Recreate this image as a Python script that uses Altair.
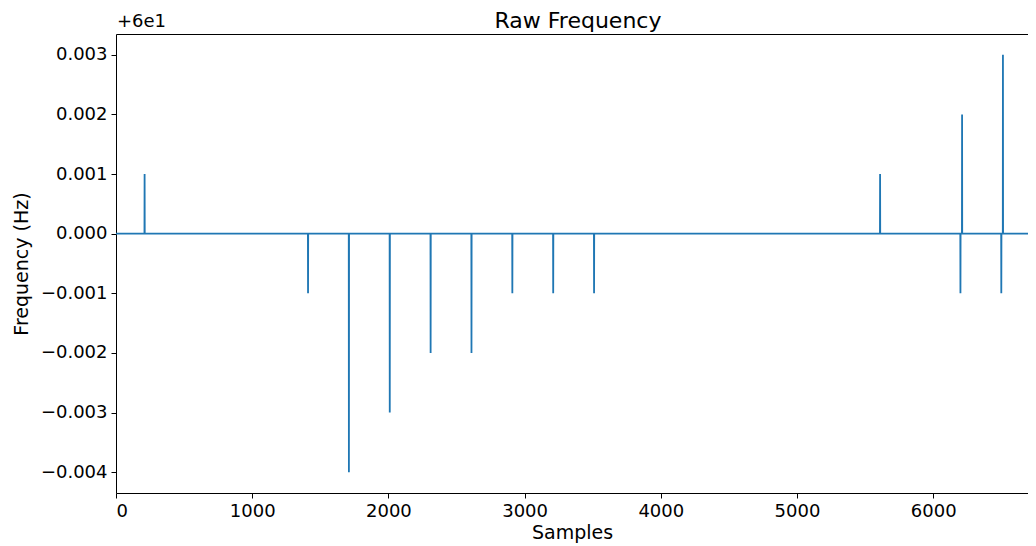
import altair as alt
import pandas as pd

# Raw frequency samples: baseline 60 Hz with single-sample deviations
baseline_hz = 60.0
spike_samples = [210, 1410, 1710, 2010, 2310, 2610, 2910, 3210, 3510, 5610, 6200, 6212, 6500, 6512]
spike_freqs = [60.001, 59.999, 59.996, 59.997, 59.998, 59.998, 59.999, 59.999, 59.999,
               60.001, 59.999, 60.002, 59.999, 60.003]
n_samples = 7200

y_ticks = [-0.004, -0.003, -0.002, -0.001, 0.0, 0.001, 0.002, 0.003]
x_ticks = [0, 1000, 2000, 3000, 4000, 5000, 6000]

rows = [{"sample": 0, "freq": baseline_hz}]
for s, f in zip(spike_samples, spike_freqs):
    rows.append({"sample": s - 1, "freq": baseline_hz})
    rows.append({"sample": s, "freq": f})
    rows.append({"sample": s + 1, "freq": baseline_hz})
rows.append({"sample": n_samples, "freq": baseline_hz})
df = pd.DataFrame(rows)

W, H = 912, 459
FONT = "DejaVu Sans"

xscale = alt.Scale(domain=[0, 6696], nice=False, zero=False)
yscale = alt.Scale(domain=[-0.00435, 0.00335], nice=False, zero=False)

line = alt.Chart(df).transform_calculate(
    offset=f"datum.freq - {baseline_hz}"
).mark_line(color="#1f77b4", strokeWidth=1.8, clip=True).encode(
    x=alt.X("sample:Q", scale=xscale,
            axis=alt.Axis(values=x_ticks, format="d", title="Samples", grid=False,
                          domainColor="#000", tickColor="#000", tickSize=5,
                          labelFontSize=18, labelColor="#000", labelFont=FONT,
                          labelPadding=4, titleFontSize=19, titleFont=FONT,
                          titleFontWeight="normal", titleColor="#000", titlePadding=3)),
    y=alt.Y("offset:Q", scale=yscale,
            axis=alt.Axis(values=y_ticks, format=".3f", title="Frequency (Hz)", grid=False,
                          domainColor="#000", tickColor="#000", tickSize=5,
                          labelFontSize=18, labelColor="#000", labelFont=FONT,
                          labelPadding=4, titleFontSize=19, titleFont=FONT,
                          titleFontWeight="normal", titleColor="#000",
                          titleX=-95, titleY=H / 2, titleAlign="center",
                          titleBaseline="middle", titleAngle=270)),
    order="sample:Q",
)

top_border = alt.Chart(df).mark_line(opacity=0).encode(
    x=alt.X("sample:Q", scale=xscale,
            axis=alt.Axis(orient="top", labels=False, ticks=False, title=None, grid=False,
                          domainColor="#000")),
    y=alt.Y("freq:Q", scale=alt.Scale(domain=[0, 1]), axis=None),
)

offset_text = alt.Chart(pd.DataFrame({"t": ["+6e1"]})).mark_text(
    align="left", baseline="bottom", fontSize=18, font=FONT, color="#000"
).encode(x=alt.value(1), y=alt.value(-3), text="t:N")

title_text = alt.Chart(pd.DataFrame({"t": ["Raw Frequency"]})).mark_text(
    align="center", baseline="alphabetic", fontSize=22, font=FONT, color="#000"
).encode(x=alt.value(462), y=alt.value(-6), text="t:N")

chart = alt.layer(line, top_border, offset_text, title_text).resolve_axis(
    x="independent"
).resolve_scale(y="independent").properties(
    width=W, height=H,
    autosize=alt.AutoSizeParams(type="none"),
    padding={"left": 108, "top": 26, "right": 0, "bottom": 50},
).configure_view(stroke=None)

chart.save("out.html", embed_options={"renderer": "svg", "actions": False})
